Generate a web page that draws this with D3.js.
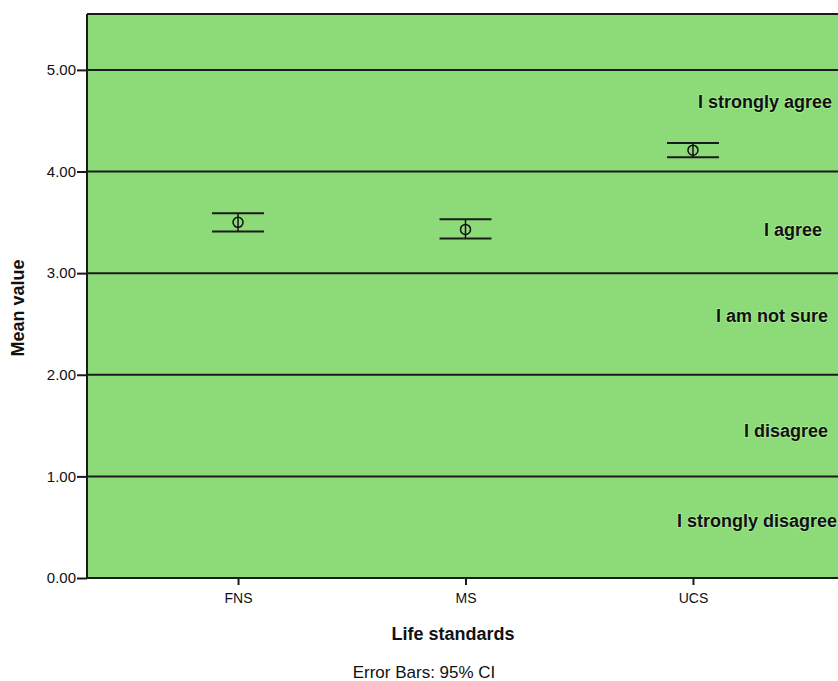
<!DOCTYPE html>
<html><head><meta charset="utf-8">
<script src="https://cdn.jsdelivr.net/npm/d3@7"></script>
<style>body{margin:0;background:#fff}svg{display:block;font-family:"Liberation Sans",Arial,sans-serif}</style>
</head><body>
<svg id="c" width="838" height="681"></svg>
<script>
const categories = ["FNS", "MS", "UCS"];
const means = [3.50, 3.43, 4.21];
const ciLower = [3.41, 3.34, 4.14];
const ciUpper = [3.59, 3.53, 4.28];
const yTicks = [0, 1, 2, 3, 4, 5];
const zoneLabels = ["I strongly agree", "I agree", "I am not sure", "I disagree", "I strongly disagree"];
const zoneLabelValues = [4.69, 3.43, 2.58, 1.45, 0.56];
const zoneLabelEnds = [832, 822, 828, 828, 837];

const svg = d3.select("#c");
const L = 87, R = 844, T = 14, B = 578;
const y = d3.scaleLinear().domain([0, 5.55]).range([B, T]);
const x = d3.scalePoint().domain(categories).range([L, R]).padding(0.664);

svg.append("rect").attr("x", L).attr("y", T).attr("width", R - L).attr("height", B - T).attr("fill", "#8cdb78");

svg.append("g").selectAll("line").data(yTicks.filter(d => d > 0)).join("line")
  .attr("x1", L).attr("x2", R).attr("y1", d => y(d)).attr("y2", d => y(d))
  .attr("stroke", "#1a1a1a").attr("stroke-width", 2);

svg.append("line").attr("x1", L).attr("x2", R).attr("y1", T).attr("y2", T).attr("stroke", "#1a1a1a").attr("stroke-width", 2);

const ya = svg.append("g").attr("transform", `translate(${L},0)`)
  .call(d3.axisLeft(y).tickValues(yTicks).tickFormat(d3.format(".2f")).tickSize(10).tickPadding(1));
ya.attr("font-size", 15).attr("font-family", "Liberation Sans, Arial, sans-serif");
ya.select(".domain").attr("d", `M0,${T}V${B}`).attr("stroke", "#1a1a1a").attr("stroke-width", 2);
ya.selectAll(".tick line").attr("stroke", "#1a1a1a").attr("stroke-width", 2);
ya.selectAll(".tick text").attr("fill", "#111");

const xa = svg.append("g").attr("transform", `translate(0,${B})`)
  .call(d3.axisBottom(x).tickSize(7).tickPadding(8));
xa.attr("font-size", 14).attr("font-family", "Liberation Sans, Arial, sans-serif");
xa.select(".domain").attr("d", `M${L},0H${R}`).attr("stroke", "#1a1a1a").attr("stroke-width", 2);
xa.selectAll(".tick line").attr("stroke", "#1a1a1a").attr("stroke-width", 2);
xa.selectAll(".tick text").attr("fill", "#111");

svg.append("g").selectAll("text").data(zoneLabels).join("text")
  .attr("x", (d, i) => zoneLabelEnds[i]).attr("y", (d, i) => y(zoneLabelValues[i]))
  .attr("dy", "0.35em").attr("text-anchor", "end")
  .attr("font-size", 18).attr("font-weight", "bold").attr("fill", "#111")
  .attr("stroke", "#a8ec98").attr("stroke-width", 1.5).attr("paint-order", "stroke")
  .text(d => d);

const eb = svg.append("g").selectAll("g").data(categories).join("g");
eb.append("line").attr("x1", d => x(d)).attr("x2", d => x(d))
  .attr("y1", (d, i) => y(ciLower[i])).attr("y2", (d, i) => y(ciUpper[i]))
  .attr("stroke", "#111").attr("stroke-width", 1.5);
eb.append("line").attr("x1", d => x(d) - 26).attr("x2", d => x(d) + 26)
  .attr("y1", (d, i) => y(ciUpper[i])).attr("y2", (d, i) => y(ciUpper[i]))
  .attr("stroke", "#1a1a1a").attr("stroke-width", 2);
eb.append("line").attr("x1", d => x(d) - 26).attr("x2", d => x(d) + 26)
  .attr("y1", (d, i) => y(ciLower[i])).attr("y2", (d, i) => y(ciLower[i]))
  .attr("stroke", "#1a1a1a").attr("stroke-width", 2);
eb.append("circle").attr("cx", d => x(d)).attr("cy", (d, i) => y(means[i])).attr("r", 5)
  .attr("fill", "none").attr("stroke", "#111").attr("stroke-width", 1.5);

svg.append("text").attr("x", 453).attr("y", 640).attr("text-anchor", "middle")
  .attr("font-size", 18).attr("font-weight", "bold").attr("fill", "#111").text("Life standards");
svg.append("text").attr("x", 424).attr("y", 678).attr("text-anchor", "middle")
  .attr("font-size", 17).attr("fill", "#111").text("Error Bars: 95% CI");
svg.append("text").attr("transform", "translate(24,308) rotate(-90)").attr("text-anchor", "middle")
  .attr("font-size", 18).attr("font-weight", "bold").attr("fill", "#111").text("Mean value");
</script>
</body></html>
